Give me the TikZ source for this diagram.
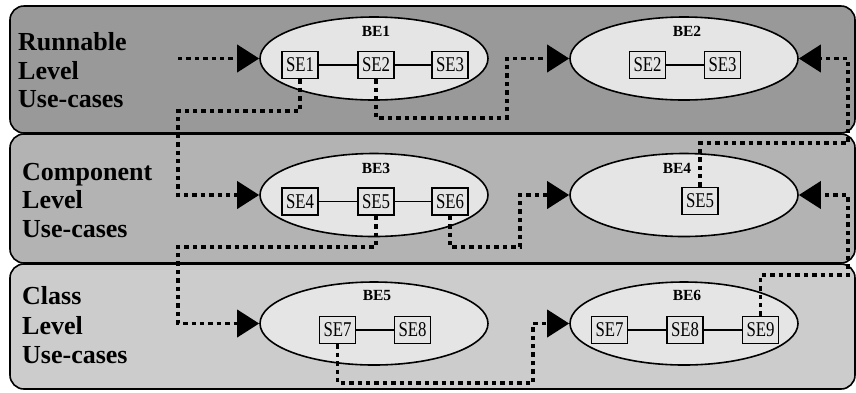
\documentclass[tikz,border=0pt]{standalone}
\usepackage{fontspec}
\setmainfont{Liberation Serif}
\usepackage{graphicx}
\usetikzlibrary{shapes.geometric,arrows.meta}
\definecolor{bandA}{HTML}{999999}
\definecolor{bandB}{HTML}{B3B3B3}
\definecolor{bandC}{HTML}{CCCCCC}
\definecolor{light}{HTML}{E5E5E5}
\newcommand{\setxt}[1]{\scalebox{0.8}[1]{\fontsize{21}{21}\selectfont #1}}
\tikzset{
  band/.style={draw=black, line width=1.6pt, rounded corners=14pt},
  beell/.style={ellipse, draw=black, line width=1.6pt, fill=light, minimum width=228pt, minimum height=83pt, inner sep=0pt},
  sebox/.style={rectangle, draw=black, line width=1.6pt, fill=light, minimum width=36pt, minimum height=27pt, inner sep=0pt},
  belab/.style={font=\bfseries\fontsize{15.5}{16}\selectfont, inner sep=0pt},
  lvl/.style={font=\bfseries\fontsize{26}{28}\selectfont, anchor=base west, inner sep=0pt},
  link/.style={draw=black, line width=1.2pt},
  flow/.style={draw=black, line width=3.8pt, dash pattern=on 4.4pt off 4pt, -{Triangle[length=22pt,width=27pt]}}
}
\begin{document}
\begin{tikzpicture}[x=1pt,y=-1pt]
\useasboundingbox (0,0) rectangle (856,392);
\fill[white] (0,0) rectangle (856,392);
% bands
\draw[band, fill=bandA] (10,6) rectangle (855,133);
\draw[band, fill=bandB] (10,134) rectangle (855,263);
\draw[band, fill=bandC] (10,264) rectangle (855,389);
% level labels
\node[lvl] (l1a) at (18,50) {Runnable};
\node[lvl] (l1b) at (18,79) {Level};
\node[lvl] (l1c) at (18,107) {Use-cases};
\node[lvl] (l2a) at (22,180) {Component};
\node[lvl] (l2b) at (22,208) {Level};
\node[lvl] (l2c) at (22,237) {Use-cases};
\node[lvl] (l3a) at (22,304) {Class};
\node[lvl] (l3b) at (22,334) {Level};
\node[lvl] (l3c) at (22,363) {Use-cases};
% ellipses
\node[beell] (e1) at (374,58.5) {};
\node[beell] (e2) at (684,58.5) {};
\node[beell] (e3) at (374,195) {};
\node[beell] (e4) at (684,195) {};
\node[beell] (e5) at (374,323.5) {};
\node[beell] (e6) at (684,323.5) {};
\node[belab] (t1) at (376,31) {BE1};
\node[belab] (t2) at (687,31) {BE2};
\node[belab] (t3) at (376,168) {BE3};
\node[belab] (t4) at (677,168) {BE4};
\node[belab] (t5) at (377,295.5) {BE5};
\node[belab] (t6) at (687,295.5) {BE6};
% coordinates for flows
\coordinate (s0) at (178,58.5);
\coordinate (c2) at (178,111);
\coordinate (c3) at (507,118);
\coordinate (c4) at (178,247);
\coordinate (c5) at (520,247);
\coordinate (c6) at (533,383);
\coordinate (c7) at (848,143);
\coordinate (c8) at (848,275);
% boxes
\node[sebox] (b11) at (300,65) {\setxt{SE1}};
\node[sebox] (b12) at (376,65) {\setxt{SE2}};
\node[sebox] (b13) at (450,65) {\setxt{SE3}};
\node[sebox] (b21) at (647.5,65) {\setxt{SE2}};
\node[sebox] (b22) at (722.5,65) {\setxt{SE3}};
\node[sebox] (b31) at (300,201.5) {\setxt{SE4}};
\node[sebox] (b32) at (376,201.5) {\setxt{SE5}};
\node[sebox] (b33) at (450,201.5) {\setxt{SE6}};
\node[sebox] (b41) at (700,201) {\setxt{SE5}};
\node[sebox] (b51) at (337.5,330) {\setxt{SE7}};
\node[sebox] (b52) at (412.5,330) {\setxt{SE8}};
\node[sebox] (b61) at (609.5,330) {\setxt{SE7}};
\node[sebox] (b62) at (685,330) {\setxt{SE8}};
\node[sebox] (b63) at (760.5,330) {\setxt{SE9}};
% solid links
\draw[link] (b11) -- (b12);
\draw[link] (b12) -- (b13);
\draw[link] (b21) -- (b22);
\draw[link] (b31) -- (b32);
\draw[link] (b32) -- (b33);
\draw[link] (b51) -- (b52);
\draw[link] (b61) -- (b62);
\draw[link] (b62) -- (b63);
% flows
\draw[flow] (s0) -- (e1.west);
\draw[flow] (b11.south) |- (c2) |- (e3.west);
\draw[flow] (b12.south) |- (c3) |- (e2.west);
\draw[flow] (b32.south) |- (c4) |- (e5.west);
\draw[flow] (b33.south) |- (c5) |- (e4.west);
\draw[flow] (b51.south) |- (c6) |- (e6.west);
\draw[flow] (b41.north) |- (c7) |- (e2.east);
\draw[flow] (b63.north) |- (c8) |- (e4.east);
\end{tikzpicture}
\end{document}
